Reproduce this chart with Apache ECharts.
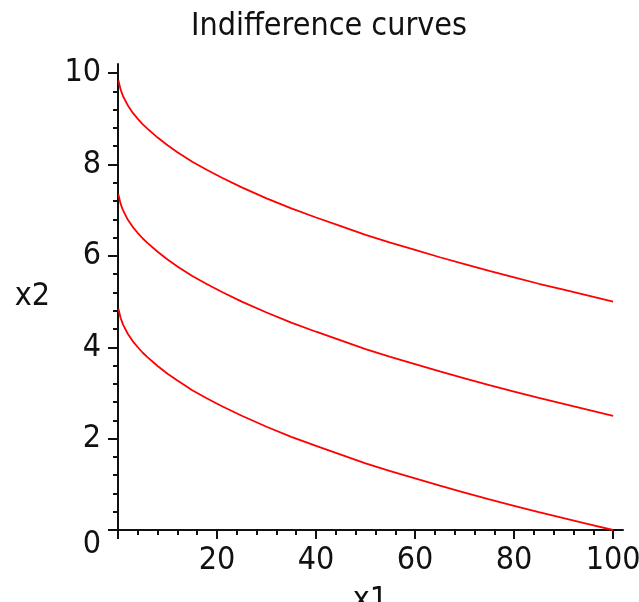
<!DOCTYPE html>
<html>
<head>
<meta charset="utf-8">
<script src="https://cdn.jsdelivr.net/npm/echarts@6/dist/echarts.min.js"></script>
<style>
html,body{margin:0;padding:0;background:#fff;}
#chart{width:639px;height:602px;}
</style>
</head>
<body>
<div id="chart"></div>
<script>
// Data
var x1Values = [0.1, 0.5, 1, 2, 3, 4, 5, 6, 8, 10, 12, 15, 18, 21, 25, 30, 35, 40, 45, 50, 55, 60, 65, 70, 75, 80, 85, 90, 95, 100];
var curveHigh = [9.84, 9.65, 9.5, 9.29, 9.13, 9.0, 8.88, 8.78, 8.59, 8.42, 8.27, 8.06, 7.88, 7.71, 7.5, 7.26, 7.04, 6.84, 6.65, 6.46, 6.29, 6.13, 5.97, 5.82, 5.67, 5.53, 5.39, 5.26, 5.13, 5.0];
var curveMid = [7.34, 7.15, 7.0, 6.79, 6.63, 6.5, 6.38, 6.28, 6.09, 5.92, 5.77, 5.56, 5.38, 5.21, 5.0, 4.76, 4.54, 4.34, 4.15, 3.96, 3.79, 3.63, 3.47, 3.32, 3.17, 3.03, 2.89, 2.76, 2.63, 2.5];
var curveLow = [4.84, 4.65, 4.5, 4.29, 4.13, 4.0, 3.88, 3.78, 3.59, 3.42, 3.27, 3.06, 2.88, 2.71, 2.5, 2.26, 2.04, 1.84, 1.65, 1.46, 1.29, 1.13, 0.97, 0.82, 0.67, 0.53, 0.39, 0.26, 0.13, 0.0];

// Tick labels / tick positions
var xMajorTicks = [0, 20, 40, 60, 80, 100];
var xTickLabels = [20, 40, 60, 80, 100];
var xMinorTicks = [4, 8, 12, 16, 24, 28, 32, 36, 44, 48, 52, 56, 64, 68, 72, 76, 84, 88, 92, 96];
var yMajorTicks = [0, 2, 4, 6, 8, 10];
var yTickLabels = [0, 2, 4, 6, 8, 10];
var yMinorTicks = [0.4, 0.8, 1.2, 1.6, 2.4, 2.8, 3.2, 3.6, 4.4, 4.8, 5.2, 5.6, 6.4, 6.8, 7.2, 7.6, 8.4, 8.8, 9.2, 9.6];

var titleText = 'Indifference curves';
var xName = 'x1';
var yName = 'x2';

function pairs(xs, ys) {
  var out = [];
  for (var i = 0; i < xs.length; i++) out.push([xs[i], ys[i]]);
  return out;
}

var FONT = "'Liberation Sans Narrow', 'DejaVu Sans Condensed', 'Liberation Sans', sans-serif";
var INK = '#111111';
var FS = 32;

var chart = echarts.init(document.getElementById('chart'), null, {renderer: 'canvas'});

var lineSeries = function (vals) {
  return {
    type: 'line',
    xAxisIndex: 0,
    yAxisIndex: 0,
    data: pairs(x1Values, vals),
    showSymbol: false,
    symbol: 'none',
    smooth: false,
    silent: true,
    animation: false,
    lineStyle: {color: '#ff0000', width: 1.8}
  };
};

chart.setOption({
  animation: false,
  backgroundColor: '#ffffff',
  title: {
    text: titleText,
    left: 186,
    top: 6,
    textStyle: {fontFamily: FONT, fontSize: 32, fontWeight: 'normal', color: INK}
  },
  grid: {left: 118, right: 16, top: 64, bottom: 72, containLabel: false, outerBoundsMode: 'none'},
  xAxis: [{
    type: 'value',
    min: 0, max: 102,
    position: 'bottom',
    splitLine: {show: false},
    axisLine: {show: true, onZero: false, lineStyle: {color: INK, width: 2}},
    axisTick: {show: true, customValues: xMajorTicks, length: 9, inside: false, lineStyle: {color: INK, width: 2}},
    axisLabel: {show: true, customValues: xTickLabels, margin: 15, fontFamily: FONT, fontSize: FS, color: INK},
    name: xName,
    nameLocation: 'middle',
    nameGap: 55,
    nameTextStyle: {fontFamily: FONT, fontSize: FS, color: INK}
  }, {
    type: 'value',
    min: 0, max: 102,
    position: 'bottom',
    splitLine: {show: false},
    axisLine: {show: false},
    axisTick: {show: true, customValues: xMinorTicks, length: 5, lineStyle: {color: INK, width: 2}},
    axisLabel: {show: false}
  }],
  yAxis: [{
    type: 'value',
    min: 0, max: 10.2,
    position: 'left',
    splitLine: {show: false},
    axisLine: {show: true, onZero: false, lineStyle: {color: INK, width: 2}},
    axisTick: {show: true, customValues: yMajorTicks, length: 10, lineStyle: {color: INK, width: 2}},
    axisLabel: {
      show: true, customValues: yTickLabels, margin: 17, fontFamily: FONT, fontSize: FS, color: INK,
      formatter: function (v) { return v === 0 ? '{o|0}' : String(v); },
      rich: {o: {fontFamily: FONT, fontSize: FS, color: INK, padding: [30, 0, 0, 0]}}
    },
    name: yName,
    nameLocation: 'middle',
    nameRotate: 0,
    nameGap: 68,
    nameTextStyle: {fontFamily: FONT, fontSize: FS, color: INK, padding: [8, 0, 0, 0]}
  }, {
    type: 'value',
    min: 0, max: 10.2,
    position: 'left',
    splitLine: {show: false},
    axisLine: {show: false},
    axisTick: {show: true, customValues: yMinorTicks, length: 5, lineStyle: {color: INK, width: 2}},
    axisLabel: {show: false}
  }],
  series: [lineSeries(curveHigh), lineSeries(curveMid), lineSeries(curveLow)]
});
</script>
</body>
</html>
